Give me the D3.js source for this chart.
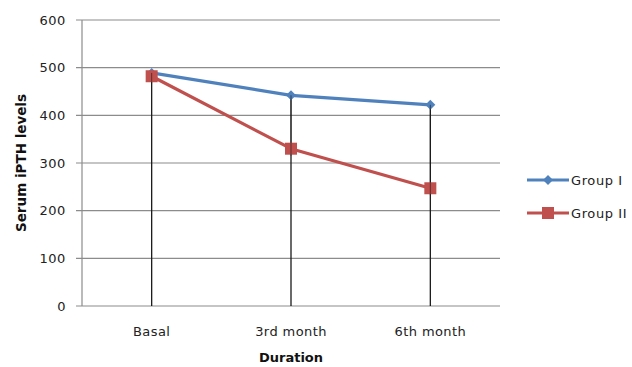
<!DOCTYPE html>
<html>
<head>
<meta charset="utf-8">
<script src="https://cdn.jsdelivr.net/npm/d3@7"></script>
<style>
  html, body { margin: 0; padding: 0; background: #fff; }
  svg { display: block; font-family: "DejaVu Sans", Verdana, sans-serif; }
</style>
</head>
<body>
<svg id="chart" width="632" height="367"></svg>
<script>
// Serum iPTH levels over the follow-up period
const categories = ["Basal", "3rd month", "6th month"];
const groupI = [489, 442, 422];
const groupII = [482, 330, 247];
const yTicks = [0, 100, 200, 300, 400, 500, 600];
const seriesNames = ["Group I", "Group II"];

const colors = { "Group I": "#4F81BD", "Group II": "#C0504D" };
const series = [
  { name: seriesNames[0], values: groupI },
  { name: seriesNames[1], values: groupII }
];

const svg = d3.select("#chart");
const margin = { left: 82, right: 500, top: 20, bottom: 306 };

const x = d3.scaleBand().domain(categories).range([margin.left, margin.right]);
const y = d3.scaleLinear().domain([0, 600]).range([margin.bottom, margin.top]);
const cx = c => x(c) + x.bandwidth() / 2;

// horizontal gridlines with small tick stubs on the left
svg.append("g")
  .selectAll("line")
  .data(yTicks)
  .join("line")
  .attr("x1", margin.left - 6)
  .attr("x2", margin.right)
  .attr("y1", d => y(d))
  .attr("y2", d => y(d))
  .attr("stroke", "#8c8c8c")
  .attr("stroke-width", 1.2);

// value axis line
svg.append("line")
  .attr("x1", margin.left).attr("x2", margin.left)
  .attr("y1", y(600)).attr("y2", y(0))
  .attr("stroke", "#8c8c8c").attr("stroke-width", 1.2);

// y tick labels
svg.append("g")
  .selectAll("text")
  .data(yTicks)
  .join("text")
  .attr("x", 66)
  .attr("y", d => y(d))
  .attr("dy", "0.35em")
  .attr("text-anchor", "end")
  .attr("font-size", 13)
  .attr("letter-spacing", 0.6)
  .attr("fill", "#222")
  .text(d => d);

// drop lines from the highest point in each category to the axis
svg.append("g")
  .selectAll("line")
  .data(categories)
  .join("line")
  .attr("x1", d => cx(d)).attr("x2", d => cx(d))
  .attr("y1", (d, i) => y(Math.max(groupI[i], groupII[i])))
  .attr("y2", y(0))
  .attr("stroke", "#1a1a1a")
  .attr("stroke-width", 1.3);

// x category labels
svg.append("g")
  .selectAll("text")
  .data(categories)
  .join("text")
  .attr("x", d => cx(d))
  .attr("y", 336)
  .attr("text-anchor", "middle")
  .attr("font-size", 13)
  .attr("letter-spacing", 0.4)
  .attr("fill", "#222")
  .text(d => d);

// series lines
const line = d3.line()
  .x((d, i) => cx(categories[i]))
  .y(d => y(d));

// draw Group II first so Group I sits on top
[series[1], series[0]].forEach(s => {
  svg.append("path")
    .datum(s.values)
    .attr("d", line)
    .attr("fill", "none")
    .attr("stroke", colors[s.name])
    .attr("stroke-width", 3.2)
    .attr("stroke-linejoin", "round");
});

function marker(g, name, px, py) {
  if (name === "Group I") {
    const r = 5;
    g.append("path")
      .attr("d", `M${px},${py - r}L${px + r},${py}L${px},${py + r}L${px - r},${py}Z`)
      .attr("fill", colors[name]);
  } else {
    const s = 12;
    g.append("rect")
      .attr("x", px - s / 2).attr("y", py - s / 2)
      .attr("width", s).attr("height", s)
      .attr("fill", colors[name]);
  }
}

const markers = svg.append("g");
series.forEach(s => {
  s.values.forEach((v, i) => marker(markers, s.name, cx(categories[i]), y(v)));
});

// thin drop-line segment visible over the markers
svg.append("g")
  .selectAll("line")
  .data(categories)
  .join("line")
  .attr("x1", d => cx(d)).attr("x2", d => cx(d))
  .attr("y1", (d, i) => y(Math.max(groupI[i], groupII[i])))
  .attr("y2", (d, i) => y(Math.min(groupI[i], groupII[i])) + 7)
  .attr("stroke", "#1a1a1a")
  .attr("stroke-width", 1)
  .attr("opacity", 0.6);

// axis titles
svg.append("text")
  .attr("transform", `translate(26,${(y(0) + y(600)) / 2}) rotate(-90)`)
  .attr("text-anchor", "middle")
  .attr("font-size", 13.5)
  .attr("font-weight", "bold")
  .attr("fill", "#111")
  .text("Serum iPTH levels");

svg.append("text")
  .attr("x", cx(categories[1]))
  .attr("y", 362)
  .attr("text-anchor", "middle")
  .attr("font-size", 13)
  .attr("font-weight", "bold")
  .attr("fill", "#111")
  .text("Duration");

// legend
const legend = svg.append("g");
series.forEach((s, i) => {
  const ly = 180 + i * 33;
  legend.append("line")
    .attr("x1", 527).attr("x2", 569)
    .attr("y1", ly).attr("y2", ly)
    .attr("stroke", colors[s.name])
    .attr("stroke-width", 3.2);
  marker(legend, s.name, 548, ly);
  legend.append("text")
    .attr("x", 571)
    .attr("y", ly)
    .attr("dy", "0.35em")
    .attr("font-size", 13)
    .attr("letter-spacing", 0.6)
    .attr("fill", "#222")
    .text(s.name);
});
</script>
</body>
</html>
